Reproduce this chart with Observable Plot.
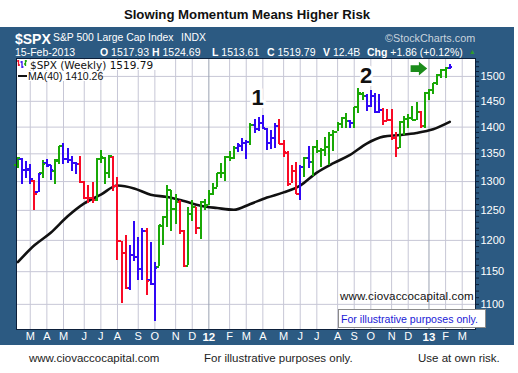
<!DOCTYPE html>
<html><head><meta charset="utf-8">
<script src="https://cdn.jsdelivr.net/npm/d3@7"></script>
<script src="https://cdn.jsdelivr.net/npm/@observablehq/plot@0.6"></script>
<style>
body{margin:0;background:#fff;}
#wrap{position:relative;width:518px;height:373px;overflow:hidden;font-family:"Liberation Sans",Arial,sans-serif;}
.abs{position:absolute;white-space:nowrap;line-height:1;}
#chart{position:absolute;left:0;top:0;}
.hd{color:#fff;font-size:10.4px;}
.hd b{font-weight:bold;}
</style></head><body>
<div id="wrap">
  <div class="abs" style="left:0;width:494px;top:7.5px;text-align:center;font-weight:bold;font-size:13.2px;color:#111">Slowing Momentum Means Higher Risk</div>
  <div class="abs" style="left:0;top:27px;width:514px;height:318px;background:#2c5a82"></div>
  <div class="abs hd" style="left:15px;top:31.5px;font-size:14px;font-weight:bold">$SPX</div>
  <div class="abs hd" style="left:53px;top:33px">S&amp;P 500 Large Cap Index</div>
  <div class="abs hd" style="left:181px;top:33px">INDX</div>
  <div class="abs hd" style="left:385px;top:33px;color:#c9d3dd;font-size:10.8px">©StockCharts.com</div>
  <div class="abs hd" style="left:15px;top:46.6px;font-size:10.5px">15-Feb-2013</div>
  <div class="abs hd" style="left:100px;top:46.6px;font-size:10.5px"><b>O</b> 1517.93</div>
  <div class="abs hd" style="left:152px;top:46.6px;font-size:10.5px"><b>H</b> 1524.69</div>
  <div class="abs hd" style="left:212px;top:46.6px;font-size:10.5px"><b>L</b> 1513.61</div>
  <div class="abs hd" style="left:267px;top:46.6px;font-size:10.5px"><b>C</b> 1519.79</div>
  <div class="abs hd" style="left:323px;top:46.6px;font-size:10.5px"><b>V</b> 12.4B</div>
  <div class="abs hd" style="left:367px;top:46.6px;font-size:10.5px"><b>Chg</b> +1.86 (+0.12%)</div>
  <div class="abs" style="left:469px;top:48px;font-size:7px;color:#2f9a2f">▲</div>
  <div id="chart"></div>
  <div class="abs" style="left:17px;top:60px;width:150px;height:10px;background:#fff"></div>
  <svg class="abs" style="left:16px;top:59px" width="14" height="12">
    <path d="M2.5 1v6M1 2h1.5M2.5 6h1.5" stroke="#f2102a" stroke-width="1.3" fill="none"/>
    <path d="M6 2v7M4.5 3h1.5M6 8h1.5" stroke="#3512f0" stroke-width="1.3" fill="none"/>
    <path d="M9.5 1v6M8 5h1.5M9.5 2h1.5" stroke="#1ea70c" stroke-width="1.3" fill="none"/>
  </svg>
  <div class="abs" style="left:30px;top:59.8px;font-family:'DejaVu Sans';font-size:10.5px;color:#111">$SPX (Weekly) 1519.79</div>
  <div class="abs" style="left:17px;top:71px;width:82px;height:10px;background:#fff"></div>
  <div class="abs" style="left:18px;top:74.5px;width:9px;height:2.4px;background:#111"></div>
  <div class="abs" style="left:28px;top:70.6px;font-size:10.5px;color:#111">MA(40) 1410.26</div>
  <div class="abs" style="left:340px;top:289.5px;font-size:11.6px;color:#111;letter-spacing:0.1px">www.ciovaccocapital.com</div>
  <div class="abs" style="left:337.5px;top:309px;width:148px;height:19px;background:#fff;border:1px solid #8a8a8a;box-sizing:border-box"></div>
  <div class="abs" style="left:341px;top:314px;font-size:10.6px;color:#1a1ad6">For illustrative purposes only.</div>
  <div class="abs" style="left:29px;top:353.4px;font-size:11.5px;color:#222">www.ciovaccocapital.com</div>
  <div class="abs" style="left:204px;top:353.4px;font-size:11.5px;color:#222">For illustrative purposes only.</div>
  <div class="abs" style="left:418px;top:353.4px;font-size:11.5px;color:#222">Use at own risk.</div>
</div>
<script>
// Weekly bars start the week of 2011-02-14 and end the week of 2013-02-11
const firstWeek = "2011-02-14";
const lastWeek = "2013-02-11";
const opens = [1329,1340,1321,1322,1301,1281,1315,1333,1329,1319,1338,1365,1340,1338,1333,1331,1300,1272,1271,1268,1340,1343,1316,1345,1292,1199,1179,1124,1177,1174,1154,1215,1137,1131,1158,1224,1239,1285,1253,1264,1216,1159,1244,1255,1220,1265,
 1259,1278,1289,1315,1316,1344,1343,1361,1365,1370,1371,1404,1397,1408,1397,1370,1379,1403,1369,1352,1296,1318,1278,1326,1342,1335,1362,1355,1357,1362,1386,1391,1406,1418,1411,1407,1438,1465,1460,1441,1461,1429,1433,1412,1414,1380,1360,1409,1416,1418,1414,1430,1402,
 1466,1472,1486,1503,1513,1518];
const highs = [1344,1341,1336,1331,1302,1315,1337,1339,1329,1339,1364,1370,1359,1346,1334,1346,1300,1293,1298,1341,1356,1343,1347,1346,1307,1199,1208,1191,1231,1204,1220,1220,1196,1165,1225,1239,1293,1285,1278,1267,1216,1255,1267,1255,1265,1269,
 1285,1297,1315,1333,1345,1354,1363,1369,1378,1375,1406,1414,1419,1422,1397,1393,1407,1415,1374,1355,1328,1335,1329,1343,1363,1362,1375,1359,1380,1389,1394,1408,1419,1427,1413,1438,1475,1467,1463,1471,1465,1464,1435,1434,1433,1389,1409,1420,1424,1439,1448,1430,1467,
 1472,1486,1503,1514,1518,1525];
const lows = [1324,1294,1306,1294,1249,1281,1305,1326,1302,1295,1331,1330,1333,1318,1312,1296,1268,1262,1262,1265,1333,1295,1306,1282,1168,1101,1122,1121,1166,1136,1136,1114,1129,1075,1158,1191,1221,1215,1227,1209,1158,1159,1231,1209,1202,1249,
 1259,1275,1289,1306,1300,1336,1340,1352,1355,1340,1366,1387,1392,1397,1357,1358,1359,1368,1343,1292,1296,1277,1267,1307,1324,1309,1351,1325,1345,1329,1355,1391,1398,1398,1397,1397,1426,1452,1431,1437,1426,1426,1403,1410,1374,1343,1360,1385,1398,1412,1413,1398,1398,
 1452,1464,1482,1496,1495,1513.6];
const closes = [1343,1320,1321,1304,1279,1313,1332,1328,1320,1337,1364,1340,1338,1333,1331,1300,1271,1271,1268,1340,1344,1316,1346,1292,1199,1179,1124,1177,1174,1154,1216,1136,1131,1155,1225,1238,1285,1253,1264,1216,1159,1244,1255,1220,1265,1258,
 1278,1289,1315,1316,1345,1343,1361,1366,1370,1371,1404,1397,1408,1398,1370,1379,1403,1369,1353,1295,1318,1278,1326,1343,1335,1362,1355,1357,1363,1386,1391,1406,1418,1411,1407,1438,1466,1460,1441,1461,1429,1433,1412,1414,1380,1360,1409,1416,1418,1414,1430,1402,1466,
 1472,1486,1503,1513,1518,1519.79];
// bar colours as seen in the picture: g = green, r = red, b = blue
const impulse = ["g","b","b","b","r","b","g","b","b","g","g","b","b","b","b","r","r","r","r","g","g","g","g","r","r","r","r","b","b","b","b","r","b","b","g","g","g","g","g","r","r","g","g","r","g","g",
 "g","g","g","g","g","g","g","b","b","b","g","b","b","b","b","b","b","r","r","r","r","r","b","g","b","g","g","g","g","g","g","g","g","g","b","g","g","g","b","b","b","b","r","r","r","r","g","g","g","g","g","r","g",
 "g","g","g","g","g","b"];
// MA(40) line
const maDates = ["2011-02-14","2011-03-14","2011-04-11","2011-05-09","2011-06-06","2011-07-04","2011-08-01","2011-08-29","2011-09-26","2011-10-24","2011-11-21","2011-12-19","2012-01-16","2012-02-13","2012-03-12","2012-04-09","2012-05-07","2012-06-04","2012-07-02","2012-07-30","2012-08-27","2012-09-24","2012-10-22","2012-11-19","2012-12-17","2013-01-14","2013-02-11"];
const maValues = [1165,1192,1213,1240,1262,1277,1293,1288,1277,1273,1266,1258,1254,1251,1261,1272,1281,1293,1316,1333,1348,1369,1382,1385,1389,1396,1410];
const yTicks = [1100,1150,1200,1250,1300,1350,1400,1450,1500];
const monthLetters = ["J","F","M","A","M","J","J","A","S","O","N","D"];
const notes = [{date:"2012-03-24", value:1456, label:"1"},{date:"2012-09-23", value:1500, label:"2"}];
const arrowAt = [{date:"2012-12-21", value:1516}];
const impulseColors = {g:"#19a806", r:"#f80a26", b:"#3008f5"};

const dates = d3.utcMonday.range(new Date(firstWeek), new Date(+new Date(lastWeek) + 864e5));
const bars = dates.map((date, i) => ({date, open: opens[i], high: highs[i], low: lows[i], close: closes[i], color: impulseColors[impulse[i]]}));
const ma = maDates.map((d, i) => ({date: new Date(d), value: maValues[i]}));
const monthTicks = d3.utcMonth.range(new Date("2011-03-01"), new Date("2013-04-01")).map(m => d3.utcMonday.ceil(m));
const janTicks = monthTicks.filter(d => d.getUTCMonth() === 0);
const otherTicks = monthTicks.filter(d => d.getUTCMonth() !== 0);
const wk = 7 * 864e5, day = 864e5;
const t0 = +new Date(firstWeek);

const arrowSymbol = {draw(ctx) {
  ctx.moveTo(-8.3, -3.3); ctx.lineTo(0, -3.3); ctx.lineTo(0, -6.8); ctx.lineTo(8.3, 0);
  ctx.lineTo(0, 6.8); ctx.lineTo(0, 3.3); ctx.lineTo(-8.3, 3.3); ctx.closePath();
}};

const plot = Plot.plot({
  width: 518, height: 373,
  marginTop: 58, marginBottom: 44, marginLeft: 16, marginRight: 43,
  style: {background: "transparent", fontFamily: "'Liberation Sans', Arial, sans-serif", overflow: "visible"},
  x: {type: "utc", domain: [new Date(t0 - 0.313 * wk), new Date(t0 + 110.2 * wk)], label: null},
  y: {type: "log", domain: [1063, 1537], label: null},
  color: {type: "identity"},
  marks: [
    Plot.frame({fill: "white"}),
    Plot.gridY({ticks: yTicks, stroke: "#c7c7d6", strokeOpacity: 1}),
    Plot.gridX({ticks: otherTicks, stroke: "#c7c7d6", strokeOpacity: 1}),
    Plot.gridX({ticks: janTicks, stroke: "#9ba2b2", strokeOpacity: 1}),
    Plot.text(notes, {x: d => new Date(d.date), y: "value", text: "label", fontSize: 22, fontWeight: "bold", fill: "#111", stroke: "white", strokeWidth: 6, paintOrder: "stroke"}),
    Plot.dot(arrowAt, {x: d => new Date(d.date), y: "value", symbol: arrowSymbol, fill: "#1b8c1b", stroke: "none", r: 8}),
    Plot.line(ma, {x: "date", y: "value", stroke: "#111", strokeWidth: 2.6, curve: "monotone-x"}),
    Plot.ruleX(bars, {x: "date", y1: "low", y2: "high", stroke: "color", strokeWidth: 2, shapeRendering: "crispEdges"}),
    Plot.ruleY(bars, {y: "open", x1: d => new Date(+d.date - 5 * day), x2: "date", stroke: "color", strokeWidth: 2, shapeRendering: "crispEdges"}),
    Plot.ruleY(bars, {y: "close", x1: "date", x2: d => new Date(+d.date + 5 * day), stroke: "color", strokeWidth: 2, shapeRendering: "crispEdges"}),
    Plot.frame({stroke: "#0c1f3a"}),
    Plot.axisY({anchor: "right", ticks: d3.range(1070, 1540, 10), tickSize: 3, tickFormat: () => "", color: "#0c1f3a"}),
    Plot.axisY({anchor: "right", ticks: yTicks, tickSize: 0, tickPadding: 5, tickFormat: d => String(d), color: "white", fontSize: 11}),
    Plot.axisX({anchor: "bottom", ticks: otherTicks, tickSize: 0, tickPadding: 3, tickFormat: d => monthLetters[d.getUTCMonth()], color: "white", fontSize: 11}),
    Plot.axisX({anchor: "bottom", ticks: janTicks, tickSize: 0, tickPadding: 3, tickFormat: d => String(d.getUTCFullYear()).slice(2), color: "white", fontSize: 11.5, fontWeight: "bold"})
  ]
});
document.getElementById("chart").appendChild(plot);
</script>
</body></html>
